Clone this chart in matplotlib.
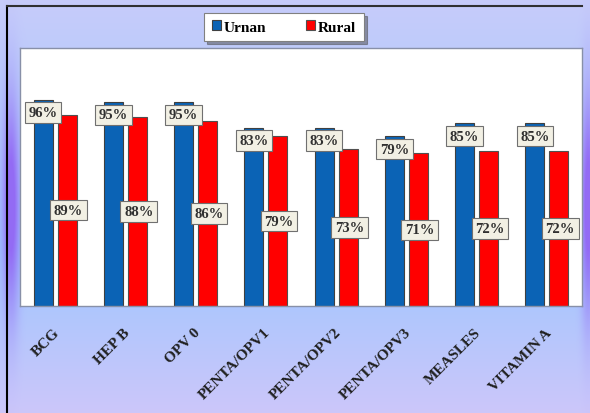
import numpy as np
import matplotlib
matplotlib.use("Agg")
import matplotlib.pyplot as plt

categories = ["BCG", "HEP B", "OPV 0", "PENTA/OPV1", "PENTA/OPV2",
              "PENTA/OPV3", "MEASLES", "VITAMIN A"]
urban = [96, 95, 95, 83, 83, 79, 85, 85]
rural = [89, 88, 86, 79, 73, 71, 72, 72]

plt.rcParams['font.family'] = ['Liberation Serif', 'DejaVu Serif']

fig = plt.figure(figsize=(5.9, 4.14), dpi=100)

# background gradient (lavender top, blue middle, purple edges)
H, W = 414, 590
yy = np.linspace(0, 1, H)[:, None]
xx = np.linspace(0, 1, W)[None, :]
top = np.array([0.78, 0.80, 0.98])
mid = np.array([0.62, 0.78, 1.00])
bot = np.array([0.80, 0.78, 0.98])
t = yy[..., None]
col = np.where(t < 0.6, top + (mid - top) * (t / 0.6), mid + (bot - mid) * ((t - 0.6) / 0.4))
col = np.broadcast_to(col, (H, W, 3)).copy()
purple = np.array([0.58, 0.42, 0.96])
edge = np.exp(-((xx - 0.018) / 0.014) ** 2) + np.exp(-((xx - 0.998) / 0.012) ** 2)
band = np.exp(-((yy - 0.5) / 0.25) ** 2)
w = np.clip(edge * band * 1.2, 0, 1)[..., None]
col = col * (1 - w) + purple * w
bg = fig.add_axes([0, 0, 1, 1])
bg.imshow(np.clip(col, 0, 1), aspect='auto', extent=[0, 1, 0, 1])
bg.plot([7 / 590, 7 / 590], [0, 1 - 7 / 414], color='black', lw=1.5)
bg.plot([7 / 590, 582 / 590], [1 - 7 / 414, 1 - 7 / 414], color='#303030', lw=1.5)
bg.set_xlim(0, 1)
bg.set_ylim(0, 1)
bg.axis('off')

ax = fig.add_axes([20 / 590, 107 / 414, 562 / 590, 258 / 414])
ax.set_facecolor('white')
x = np.arange(len(categories))
bw = 0.27
off = 0.17
ax.bar(x - off, urban, bw, color='#0b63b5', edgecolor='#404040', linewidth=0.8, label='Urnan')
ax.bar(x + off, rural, bw, color='#ff0000', edgecolor='#505050', linewidth=0.8, label='Rural')

box = dict(boxstyle='square,pad=0.25', fc='#f2f0e4', ec='#707070', lw=0.8)
for i in range(len(categories)):
    ax.text(x[i] - off, urban[i] - 6, f"{urban[i]}%", ha='center', va='center',
            fontsize=10.5, fontweight='bold', color='#303030', bbox=box)
    ax.text(x[i] + off + 0.02, rural[i] / 2, f"{rural[i]}%", ha='center', va='center',
            fontsize=10.5, fontweight='bold', color='#303030', bbox=box)

ax.set_xlim(-0.5, len(categories) - 0.5)
ax.set_ylim(0, 120)
ax.set_yticks([])
ax.set_xticks(x - 0.03)
ax.set_xticklabels(categories, rotation=45, ha='right', rotation_mode='anchor',
                   fontsize=11, fontweight='bold', color='#202020')
ax.tick_params(axis='x', length=0, pad=14)
for s in ax.spines.values():
    s.set_color('#8890a8')
    s.set_linewidth(1)

leg = fig.legend(loc='center', bbox_to_anchor=(284 / 590, 1 - 28 / 414), ncol=2,
                 frameon=True, fancybox=False, edgecolor='#808080', framealpha=1,
                 prop={'weight': 'bold', 'size': 11}, handlelength=0.6, handleheight=0.6,
                 handletextpad=0.2, columnspacing=2.6, borderpad=0.5, borderaxespad=0,
                 shadow=True)
leg.get_frame().set_linewidth(0.8)

fig.savefig("out.png", dpi=100)
